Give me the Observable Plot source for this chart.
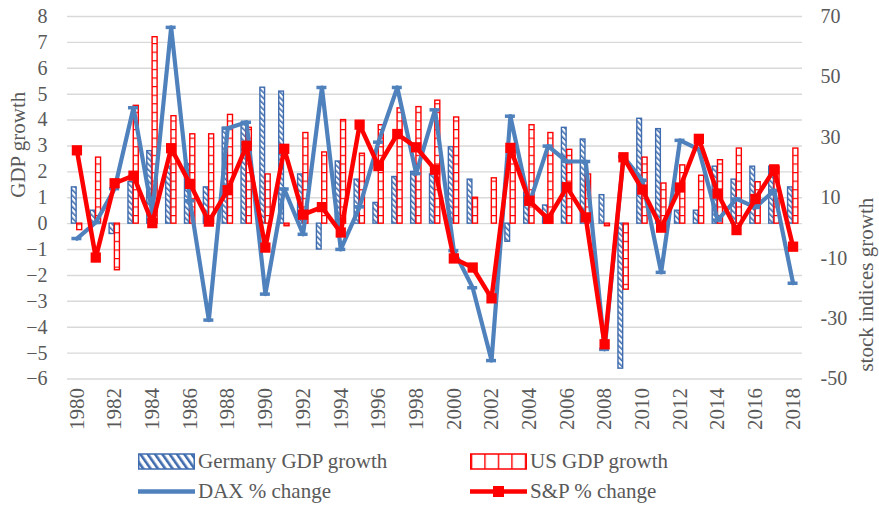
<!DOCTYPE html>
<html><head><meta charset="utf-8">
<script src="https://cdn.jsdelivr.net/npm/d3@7"></script>
<script src="https://cdn.jsdelivr.net/npm/@observablehq/plot@0.6"></script>
<style>
body{margin:0;background:#fff;font-family:"Liberation Serif","Times New Roman",serif;}
#wrap{position:relative;width:879px;height:505px;overflow:hidden;}
#chart svg, #chart svg text{font-family:"Liberation Serif","Times New Roman",serif !important;}
.leg{position:absolute;display:flex;align-items:center;font-size:21px;color:#595959;white-space:nowrap;height:30px;}
.leg svg{margin-right:3px;}
</style></head><body><div id="wrap"><div id="chart"></div>
<div class="leg" style="left:138px;top:446px;"><svg width="57" height="17"><rect x="0.75" y="1" width="55.5" height="15" fill="url(#gerLeg)" stroke="#3f6cae" stroke-width="1.5"/></svg>Germany GDP growth</div>
<div class="leg" style="left:470px;top:446px;"><svg width="57" height="17"><rect x="0.75" y="1" width="55.5" height="15" fill="url(#usLeg)" stroke="#ff0000" stroke-width="1.5"/></svg>US GDP growth</div>
<div class="leg" style="left:138px;top:476px;"><svg width="57" height="17"><line x1="0" x2="57" y1="8.5" y2="8.5" stroke="#4f81bd" stroke-width="4.5"/></svg>DAX % change</div>
<div class="leg" style="left:470px;top:476px;"><svg width="57" height="17"><line x1="0" x2="57" y1="8.5" y2="8.5" stroke="#ff0000" stroke-width="4.5"/><rect x="23" y="3" width="11" height="11" fill="#ff0000"/></svg>S&amp;P % change</div>
</div>
<script>
const years = [1980,1981,1982,1983,1984,1985,1986,1987,1988,1989,1990,1991,1992,1993,1994,1995,1996,1997,1998,1999,2000,2001,2002,2003,2004,2005,2006,2007,2008,2009,2010,2011,2012,2013,2014,2015,2016,2017,2018];
const germanyGDP = [1.4,0.5,-0.4,1.6,2.8,2.2,2.3,1.4,3.7,3.9,5.25,5.1,1.9,-1.0,2.4,1.7,0.8,1.8,2.0,1.9,2.95,1.7,0.0,-0.7,1.2,0.7,3.7,3.25,1.1,-5.6,4.05,3.65,0.5,0.5,2.2,1.7,2.2,2.2,1.4];
const usGDP = [-0.25,2.55,-1.8,4.55,7.2,4.15,3.45,3.45,4.2,3.7,1.9,-0.1,3.5,2.75,4.0,2.7,3.8,4.45,4.5,4.75,4.1,1.0,1.75,2.85,3.8,3.5,2.85,1.9,-0.1,-2.55,2.55,1.55,2.25,1.85,2.45,2.9,1.6,2.2,2.9];
const daxChange = [-3.5,1.8,13,39.8,5,66.4,9,-30.5,33,35,-21.9,12.9,-2.1,46.5,-7.1,7,28.4,46.5,18,39.1,-7.5,-19.8,-43.9,37,8,27.1,22,22,-40.2,23.6,15.8,-14.7,29,26,2.6,9.6,6.8,12.4,-18.3];
const spChange = [25.7,-9.8,14.8,17.3,1.6,26.4,14.6,2.1,12.5,27.2,-6.5,26.2,4.4,6.9,-1.5,34.2,20.5,31.1,26.7,19.3,-10.1,-13.1,-23.3,26.5,9,3,13.5,3.5,-38.5,23.4,12.7,0.1,13.4,29.5,11.4,-0.7,9.6,19.4,-6.2];
const leftTicks = [-6,-5,-4,-3,-2,-1,0,1,2,3,4,5,6,7,8];
const rightTicks = [-50,-30,-10,10,30,50,70];
const yearLabels = ["1980","1982","1984","1986","1988","1990","1992","1994","1996","1998","2000","2002","2004","2006","2008","2010","2012","2014","2016","2018"];

// the right axis spans -50..70 over the same height as the left axis -6..8
const toLeft = v => (v + 50) * 14 / 120 - 6;
const fromLeft = l => Math.round((l + 6) * 120 / 14 - 50);

const rows = years.map((y, i) => ({year: String(y), ger: germanyGDP[i], us: usGDP[i], dax: toLeft(daxChange[i]), sp: toLeft(spChange[i])}));

const W = 879, ML = 67, MR = 77;
const bw = (W - ML - MR) / years.length;

const chart = Plot.plot({
  width: W, height: 440,
  marginTop: 16, marginBottom: 61.5, marginLeft: ML, marginRight: MR,
  style: {fontFamily: "Liberation Serif, Times New Roman, serif", fontSize: "20px", color: "#595959", background: "#fff", overflow: "visible"},
  x: {type: "band", domain: years.map(String), paddingInner: 0, paddingOuter: 0},
  y: {domain: [-6, 8]},
  marks: [
    Plot.ruleY(leftTicks, {stroke: "#d9d9d9", strokeWidth: 1.4}),
    Plot.barY(rows, {x: "year", y1: 0, y2: "ger", fill: "url(#gerPat)", stroke: "#3f6cae", strokeWidth: 1.4, insetLeft: bw / 2 - 5, insetRight: bw / 2 + 0.3}),
    Plot.barY(rows, {x: "year", y1: 0, y2: "us", fill: "url(#usPat)", stroke: "#ff0000", strokeWidth: 1.4, insetLeft: bw / 2 + 0.3, insetRight: bw / 2 - 5.3}),
    Plot.line(rows, {x: "year", y: "dax", stroke: "#4f81bd", strokeWidth: 4.2, strokeLinejoin: "round"}),
    Plot.tickY(rows, {x: "year", y: "dax", stroke: "#4f81bd", strokeWidth: 3.5, insetLeft: bw / 2 - 5, insetRight: bw / 2 - 5}),
    Plot.line(rows, {x: "year", y: "sp", stroke: "#ff0000", strokeWidth: 4.5, strokeLinejoin: "round"}),
    Plot.dot(rows, {x: "year", y: "sp", symbol: "square", r: 5.8, fill: "#ff0000", stroke: "none"}),
    Plot.axisY(leftTicks, {anchor: "left", tickSize: 0, tickPadding: 20, label: null}),
    Plot.axisY(rightTicks.map(toLeft), {anchor: "right", tickSize: 0, tickPadding: 18, tickFormat: fromLeft, label: null}),
    Plot.axisX(yearLabels, {anchor: "bottom", tickSize: 0, tickPadding: 9, tickRotate: -90, label: null, fontSize: 21}),
    Plot.text(["GDP growth"], {frameAnchor: "left", dx: -49, rotate: -90, fontSize: 21}),
    Plot.text(["stock indices growth"], {frameAnchor: "right", dx: 64, rotate: -90, fontSize: 21})
  ]
});

const svg = d3.select(chart);
const defs = svg.insert("defs", ":first-child");
const ger = defs.append("pattern").attr("id", "gerPat").attr("patternUnits", "userSpaceOnUse")
  .attr("width", 4).attr("height", 4).attr("patternTransform", "rotate(-45)");
ger.append("rect").attr("width", 4).attr("height", 4).attr("fill", "#fff");
ger.append("rect").attr("width", 1.6).attr("height", 4).attr("fill", "#3f6cae");
const us = defs.append("pattern").attr("id", "usPat").attr("patternUnits", "userSpaceOnUse")
  .attr("width", 8).attr("height", 8.6);
us.append("rect").attr("width", 8).attr("height", 8.6).attr("fill", "#fff");
us.append("rect").attr("width", 8).attr("height", 1.2).attr("fill", "#ff0000");
const gl = defs.append("pattern").attr("id", "gerLeg").attr("patternUnits", "userSpaceOnUse")
  .attr("width", 6).attr("height", 6).attr("patternTransform", "rotate(-35)");
gl.append("rect").attr("width", 6).attr("height", 6).attr("fill", "#fff");
gl.append("rect").attr("width", 2.6).attr("height", 6).attr("fill", "#3f6cae");
const ul = defs.append("pattern").attr("id", "usLeg").attr("patternUnits", "userSpaceOnUse")
  .attr("width", 13.5).attr("height", 17).attr("x", 0.75);
ul.append("rect").attr("width", 13.5).attr("height", 17).attr("fill", "#fff");
ul.append("rect").attr("width", 1.4).attr("height", 17).attr("fill", "#ff0000");

document.getElementById("chart").appendChild(chart);
</script>
</body></html>
